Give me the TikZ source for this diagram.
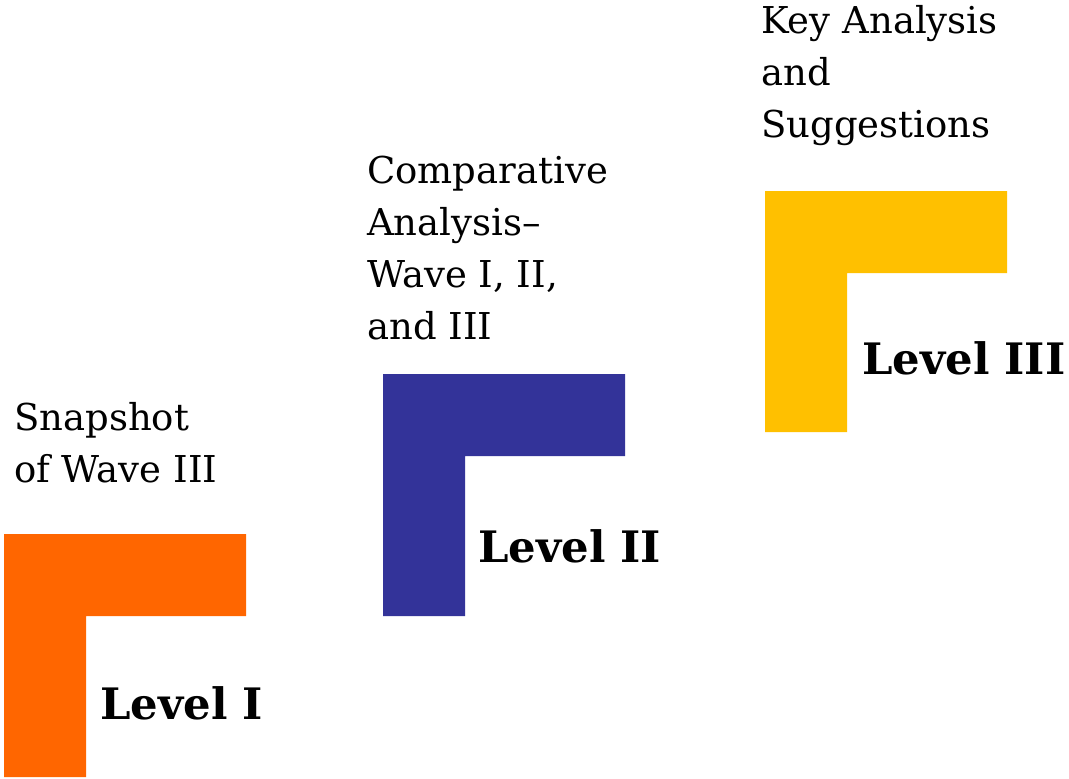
\documentclass[tikz,border=0pt]{standalone}
\usepackage{fontspec}
\setmainfont{DejaVu Serif}
\definecolor{lorange}{HTML}{FF6600}
\definecolor{lblue}{HTML}{333399}
\definecolor{lyellow}{HTML}{FFC000}
\tikzset{
  desc/.style={font=\fontsize{27.75pt}{39pt}\selectfont, inner sep=0pt, anchor=base west, align=left},
  lvl/.style={font=\fontsize{32.5pt}{38pt}\selectfont\bfseries, inner sep=0pt, anchor=base west},
}
\begin{document}
\begin{tikzpicture}[x=0.75pt,y=-0.75pt]
\useasboundingbox (0,0) rectangle (1069,778);
% L shapes
\fill[lorange] (4,534) -- (246,534) -- (246,616) -- (86,616) -- (86,777) -- (4,777) -- cycle;
\fill[lblue] (383,374) -- (625,374) -- (625,456) -- (465,456) -- (465,616) -- (383,616) -- cycle;
\fill[lyellow] (765,191) -- (1007,191) -- (1007,273) -- (847,273) -- (847,432) -- (765,432) -- cycle;
% descriptions (anchored at the baseline of the last line)
\node[desc] (d1) at (14,482) {Snapshot\\of Wave III};
\node[desc] (d2) at (367,339) {Comparative\\Analysis–\\Wave I, II,\\and III};
\node[desc] (d3) at (761,137) {Key Analysis\\and\\Suggestions};
% levels
\node[lvl] (l1) at (100,719) {Level I};
\node[lvl] (l2) at (478,562) {Level II};
\node[lvl] (l3) at (862,374) {Level III};
\end{tikzpicture}
\end{document}
